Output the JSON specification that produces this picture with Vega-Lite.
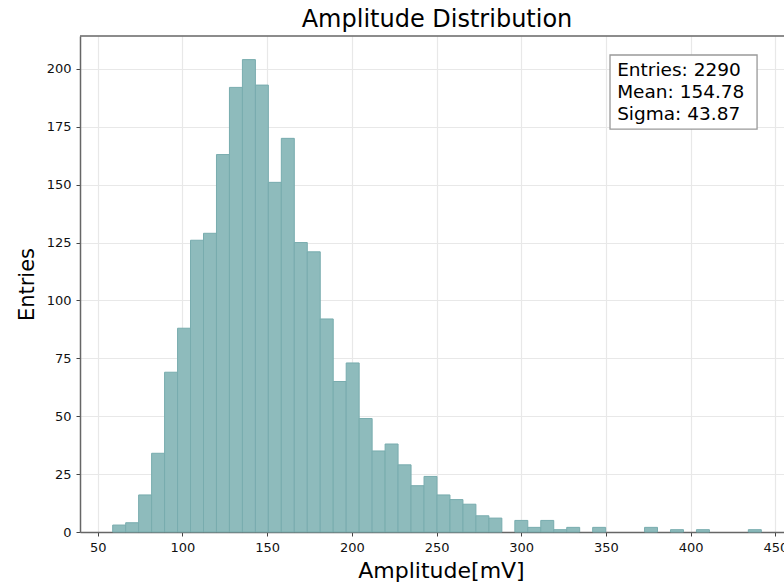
{
  "$schema": "https://vega.github.io/schema/vega-lite/v6.json",
  "width": 704,
  "height": 496,
  "autosize": {"type": "none"},
  "padding": {"left": 80, "top": 36, "right": 0, "bottom": 51},
  "background": "white",
  "title": {
    "text": "Amplitude Distribution",
    "fontSize": 24,
    "font": "DejaVu Sans",
    "fontWeight": "normal",
    "color": "#000",
    "anchor": "middle",
    "baseline": "alphabetic",
    "offset": 8,
    "dx": 5,
    "dy": 24
  },
  "config": {
    "view": {"stroke": null},
    "font": "DejaVu Sans",
    "axis": {
      "labelFont": "DejaVu Sans",
      "labelFontSize": 13,
      "labelColor": "#111",
      "titleFont": "DejaVu Sans",
      "titleFontWeight": "normal",
      "titleColor": "#000",
      "domainColor": "#666",
      "domainWidth": 1.5,
      "tickColor": "#444",
      "tickSize": 4,
      "tickWidth": 1,
      "gridColor": "#e8e8e8",
      "gridWidth": 1.2,
      "labelPadding": 5
    }
  },
  "datasets": {
    "bins": [
      {"bin_start": 58.85, "bin_end": 66.51, "count": 3},
      {"bin_start": 66.51, "bin_end": 74.16, "count": 4},
      {"bin_start": 74.16, "bin_end": 81.82, "count": 16},
      {"bin_start": 81.82, "bin_end": 89.48, "count": 34},
      {"bin_start": 89.48, "bin_end": 97.14, "count": 69},
      {"bin_start": 97.14, "bin_end": 104.79, "count": 88},
      {"bin_start": 104.79, "bin_end": 112.45, "count": 126},
      {"bin_start": 112.45, "bin_end": 120.11, "count": 129},
      {"bin_start": 120.11, "bin_end": 127.76, "count": 163},
      {"bin_start": 127.76, "bin_end": 135.42, "count": 192},
      {"bin_start": 135.42, "bin_end": 143.08, "count": 204},
      {"bin_start": 143.08, "bin_end": 150.73, "count": 193},
      {"bin_start": 150.73, "bin_end": 158.39, "count": 151},
      {"bin_start": 158.39, "bin_end": 166.05, "count": 170},
      {"bin_start": 166.05, "bin_end": 173.71, "count": 125},
      {"bin_start": 173.71, "bin_end": 181.36, "count": 121},
      {"bin_start": 181.36, "bin_end": 189.02, "count": 92},
      {"bin_start": 189.02, "bin_end": 196.68, "count": 65},
      {"bin_start": 196.68, "bin_end": 204.33, "count": 73},
      {"bin_start": 204.33, "bin_end": 211.99, "count": 49},
      {"bin_start": 211.99, "bin_end": 219.65, "count": 35},
      {"bin_start": 219.65, "bin_end": 227.30, "count": 38},
      {"bin_start": 227.30, "bin_end": 234.96, "count": 29},
      {"bin_start": 234.96, "bin_end": 242.62, "count": 20},
      {"bin_start": 242.62, "bin_end": 250.28, "count": 24},
      {"bin_start": 250.28, "bin_end": 257.93, "count": 16},
      {"bin_start": 257.93, "bin_end": 265.59, "count": 14},
      {"bin_start": 265.59, "bin_end": 273.25, "count": 12},
      {"bin_start": 273.25, "bin_end": 280.90, "count": 7},
      {"bin_start": 280.90, "bin_end": 288.56, "count": 6},
      {"bin_start": 296.22, "bin_end": 303.87, "count": 5},
      {"bin_start": 303.87, "bin_end": 311.53, "count": 2},
      {"bin_start": 311.53, "bin_end": 319.19, "count": 5},
      {"bin_start": 319.19, "bin_end": 326.85, "count": 1},
      {"bin_start": 326.85, "bin_end": 334.50, "count": 2},
      {"bin_start": 342.16, "bin_end": 349.82, "count": 2},
      {"bin_start": 372.79, "bin_end": 380.44, "count": 2},
      {"bin_start": 388.10, "bin_end": 395.76, "count": 1},
      {"bin_start": 403.42, "bin_end": 411.07, "count": 1},
      {"bin_start": 434.04, "bin_end": 441.70, "count": 1}
    ],
    "stats": [
      {"label": "Entries: 2290\nMean: 154.78\nSigma: 43.87"}
    ]
  },
  "layer": [
    {
      "data": {"name": "bins"},
      "mark": {"type": "rect", "fill": "#8ebbbc", "stroke": "#78acae", "strokeWidth": 1},
      "encoding": {
        "x": {
          "field": "bin_start",
          "type": "quantitative",
          "scale": {"domain": [39.55, 455.1], "nice": false, "zero": false},
          "axis": {
            "title": "Amplitude[mV]",
            "values": [50, 100, 150, 200, 250, 300, 350, 400, 450],
            "titleFontSize": 22,
            "titleX": 361,
            "titleY": 45,
            "titleBaseline": "alphabetic",
            "labelFlush": false
          }
        },
        "x2": {"field": "bin_end"},
        "y": {
          "field": "count",
          "type": "quantitative",
          "scale": {"domain": [0, 214.2], "nice": false},
          "axis": {
            "title": "Entries",
            "values": [0, 25, 50, 75, 100, 125, 150, 175, 200],
            "titleFontSize": 21,
            "titleX": -47,
            "titleY": 248,
            "titleBaseline": "alphabetic",
            "labelFlush": false
          }
        },
        "y2": {"datum": 0}
      }
    },
    {
      "data": {"name": "stats"},
      "mark": {"type": "rule", "color": "#666", "strokeWidth": 1.5},
      "encoding": {
        "y": {"datum": 214.2, "type": "quantitative"}
      }
    },
    {
      "data": {"name": "stats"},
      "mark": {"type": "rect", "fill": "white", "stroke": "#999", "strokeWidth": 1.3},
      "encoding": {
        "x": {"datum": 352.4, "type": "quantitative"},
        "x2": {"datum": 439.2},
        "y": {"datum": 206.0, "type": "quantitative"},
        "y2": {"datum": 174.0}
      }
    },
    {
      "data": {"name": "stats"},
      "mark": {"type": "text", "align": "left", "baseline": "alphabetic", "fontSize": 18.5, "font": "DejaVu Sans", "color": "#000", "lineBreak": "\n", "lineHeight": 22},
      "encoding": {
        "x": {"datum": 356.6, "type": "quantitative"},
        "y": {"datum": 196.9, "type": "quantitative"},
        "text": {"field": "label"}
      }
    }
  ]
}
